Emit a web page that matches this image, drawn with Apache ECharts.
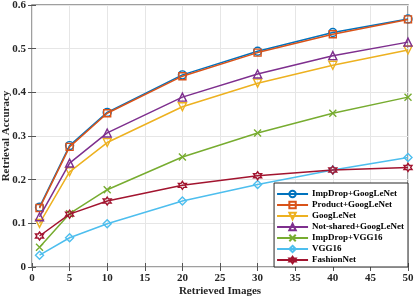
<!DOCTYPE html>
<html><head><meta charset="utf-8">
<script src="https://cdn.jsdelivr.net/npm/echarts@6/dist/echarts.min.js"></script>
<style>html,body{margin:0;padding:0;background:#fff}#c{width:415px;height:297px}</style>
</head><body><div id="c"></div>
<script>
const xValues = [1, 5, 10, 20, 30, 40, 50];
const seriesNames = ['ImpDrop+GoogLeNet','Product+GoogLeNet','GoogLeNet','Not-shared+GoogLeNet','ImpDrop+VGG16','VGG16','FashionNet'];
const impDropGoogLeNet = [0.137, 0.278, 0.354, 0.440, 0.494, 0.537, 0.568];
const productGoogLeNet = [0.135, 0.275, 0.352, 0.437, 0.491, 0.533, 0.567];
const googLeNet        = [0.100, 0.218, 0.285, 0.367, 0.421, 0.462, 0.497];
const notSharedGoogLeNet = [0.115, 0.238, 0.307, 0.389, 0.442, 0.484, 0.515];
const impDropVGG16     = [0.045, 0.122, 0.177, 0.252, 0.307, 0.352, 0.389];
const vgg16            = [0.027, 0.067, 0.099, 0.151, 0.189, 0.222, 0.251];
const fashionNet       = [0.071, 0.121, 0.151, 0.187, 0.209, 0.222, 0.228];
const allValues = [impDropGoogLeNet, productGoogLeNet, googLeNet, notSharedGoogLeNet, impDropVGG16, vgg16, fashionNet];

const colors = ['#0072BD','#D95319','#EDB120','#7E2F8E','#77AC30','#4DBEEE','#A2142F'];
const hexagram = 'path://M0,-100 L28.87,-50 L86.6,-50 L57.7,0 L86.6,50 L28.87,50 L0,100 L-28.87,50 L-86.6,50 L-57.7,0 L-86.6,-50 L-28.87,-50Z';
const symbols = ['circle','rect','triangle','triangle','path://M0,0 L10,10 M10,0 L0,10','diamond',hexagram];
const rotates = [0,0,180,0,0,0,0];
const sizes = [8,7,8,8,7,8,8];
const font = '"Liberation Serif", "Times New Roman", serif';

const chart = echarts.init(document.getElementById('c'));
const series = seriesNames.map((n,i)=>({
  name:n, type:'line',
  data: xValues.map((x,j)=>[x, allValues[i][j]]),
  symbol: symbols[i], symbolSize: sizes[i], symbolRotate: rotates[i],
  showAllSymbol:true,
  lineStyle:{color:colors[i], width:1.5},
  itemStyle:{color:'rgba(255,255,255,0)', borderColor:colors[i], borderWidth:1.4},
  emphasis:{disabled:true},
  z: 2+i
}));
const axisLbl = {fontFamily:font, fontWeight:'bold', fontSize:11, color:'#262626'};
chart.setOption({
  animation:false,
  color: colors,
  grid:{left:32, right:7, top:5, bottom:30, show:true, borderColor:'#808080', borderWidth:1.5, containLabel:false, outerBoundsMode:'none'},
  legend:{
    orient:'vertical', right:7, bottom:30,
    backgroundColor:'#fff', borderColor:'#262626', borderWidth:1,
    padding:[6,4,2,2], itemGap:1, itemWidth:31, itemHeight:8,
    itemStyle:{color:'rgba(255,255,255,0)'},
    textStyle:{fontFamily:font, fontWeight:'bold', fontSize:9, lineHeight:10, color:'#000', padding:[0,0,0,-1]},
    data: seriesNames
  },
  xAxis:[{
    type:'value', min:0, max:50, interval:5,
    name:'Retrieved Images', nameLocation:'middle', nameGap:19, nameMoveOverlap:false,
    nameTextStyle:{fontFamily:font, fontWeight:'bold', fontSize:11, color:'#262626'},
    axisLine:{show:false}, axisTick:{inside:true, length:4, lineStyle:{color:'#555'}},
    axisLabel:Object.assign({margin:6}, axisLbl),
    splitLine:{show:true, lineStyle:{color:'#e6e6e6', width:1}}
  },{
    type:'value', min:0, max:50, interval:5, position:'top',
    axisLine:{show:false}, axisTick:{inside:true, length:4, lineStyle:{color:'#555'}},
    axisLabel:{show:false}, splitLine:{show:false}
  }],
  yAxis:[{
    type:'value', min:0, max:0.6, interval:0.1,
    name:'Retrieval Accuracy', nameLocation:'middle', nameGap:20, nameMoveOverlap:false,
    nameTextStyle:{fontFamily:font, fontWeight:'bold', fontSize:11, color:'#262626'},
    axisLine:{show:false}, axisTick:{inside:true, length:4, lineStyle:{color:'#555'}},
    axisLabel:Object.assign({margin:6, formatter:v=> v===0?'0':v.toFixed(1)}, axisLbl),
    splitLine:{show:true, lineStyle:{color:'#e6e6e6', width:1}}
  },{
    type:'value', min:0, max:0.6, interval:0.1, position:'right',
    axisLine:{show:false}, axisTick:{inside:true, length:4, lineStyle:{color:'#555'}},
    axisLabel:{show:false}, splitLine:{show:false}
  }],
  series: series
});
</script></body></html>
